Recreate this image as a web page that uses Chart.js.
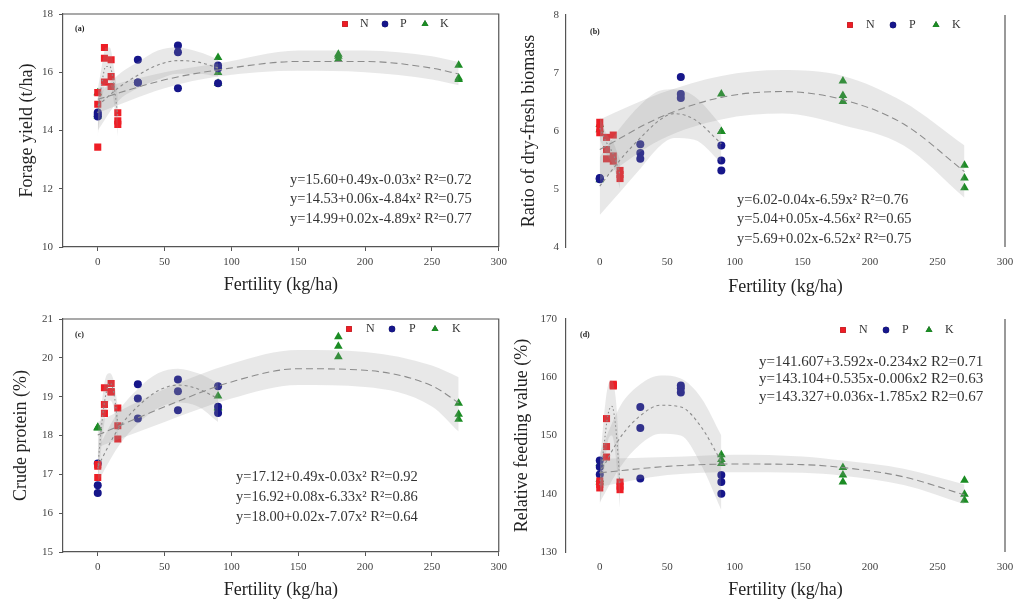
<!DOCTYPE html>
<html>
<head>
<meta charset="utf-8">
<script src="https://cdn.jsdelivr.net/npm/chart.js@4.4.0/dist/chart.umd.min.js"></script>
<style>
  html, body { margin: 0; background: #fff; }
  #fig { position: relative; width: 1024px; height: 607px; overflow: hidden; }
  #fig canvas { position: absolute; }
</style>
</head>
<body>
<div id="fig">
  <canvas id="ca" width="512" height="300" style="left:0;top:0"></canvas>
  <canvas id="cb" width="512" height="300" style="left:512px;top:0"></canvas>
  <canvas id="cc" width="512" height="307" style="left:0;top:300px"></canvas>
  <canvas id="cd" width="512" height="307" style="left:512px;top:300px"></canvas>
</div>
<script>
// fertiliser rates (kg/ha) for each element
const nRates = [0, 5, 10, 15];
const pRates = [0, 30, 60, 90];
const kRates = [0, 90, 180, 270];
const xTicks = [0, 50, 100, 150, 200, 250, 300];

// (a) forage yield, t/ha - three replicates per rate
const yieldTicks = [10, 12, 14, 16, 18];
const yieldN = [[13.43, 14.90, 15.30], [16.85, 16.48, 15.66], [16.43, 15.85, 15.51], [14.61, 14.33, 14.21]];
const yieldP = [[14.62, 14.48, 14.55], [16.43, 15.65, 15.65], [16.92, 16.69, 15.45], [16.23, 16.14, 15.62]];
const yieldK = [[15.30, 14.50, 14.55], [16.51, 15.99, 15.62], [16.62, 16.55, 16.45], [16.24, 15.80, 15.75]];
const yieldFitNx = [0, 3, 6, 9, 12, 15];
const yieldFitN = [14.6, 15.6, 16.2, 16.2, 15.6, 14.5];
const yieldBandNhi = [15.4, 16.2, 16.85, 16.85, 16.2, 15.2];
const yieldBandNlo = [13.8, 15.0, 15.6, 15.6, 15.0, 13.8];
const yieldFitPx = [0, 15, 30, 45, 60, 75, 90];
const yieldFitP = [14.85, 15.45, 15.9, 16.25, 16.4, 16.35, 16.15];
const yieldBandPhi = [15.2, 15.9, 16.35, 16.75, 16.85, 16.7, 16.45];
const yieldBandPlo = [14.0, 15.0, 15.45, 15.75, 15.95, 15.95, 15.85];
const yieldFitKx = [0, 50, 90, 150, 200, 250, 270];
const yieldFitK = [15.07, 15.74, 16.08, 16.37, 16.37, 16.14, 15.94];
const yieldBandKhi = [15.45, 16.0, 16.3, 16.75, 16.75, 16.55, 16.35];
const yieldBandKlo = [14.6, 15.45, 15.85, 16.05, 16.0, 15.75, 15.55];

// (b) ratio of dry-fresh biomass
const ratioTicks = [4, 5, 6, 7, 8];
const ratioN = [[6.15, 6.05, 5.97], [5.89, 5.68, 5.52], [5.93, 5.57, 5.48], [5.32, 5.25, 5.18]];
const ratioP = [[5.19, 5.17, 5.18], [5.77, 5.62, 5.52], [6.93, 6.64, 6.57], [5.75, 5.49, 5.32]];
const ratioK = [[6.11, 6.02, 5.16], [6.64, 5.99, 5.99], [6.86, 6.61, 6.51], [5.41, 5.19, 5.02]];
const ratioFitNx = [0, 5, 10, 15];
const ratioFitN = [6.05, 5.8, 5.6, 5.25];
const ratioBandNhi = [6.25, 5.95, 5.8, 5.5];
const ratioBandNlo = [5.85, 5.6, 5.4, 5.0];
const ratioFitPx = [0, 15, 30, 45, 55, 70, 90];
const ratioFitP = [5.05, 5.5, 5.88, 6.2, 6.3, 6.2, 5.78];
const ratioBandPhi = [5.55, 6.05, 6.45, 6.7, 6.72, 6.6, 6.1];
const ratioBandPlo = [4.55, 4.95, 5.35, 5.75, 5.88, 5.85, 5.45];
const ratioFitKx = [0, 45, 90, 135, 180, 225, 270];
const ratioFitK = [5.68, 6.24, 6.58, 6.68, 6.54, 6.12, 5.30];
const ratioBandKhi = [6.2, 6.65, 6.95, 7.05, 6.95, 6.5, 5.75];
const ratioBandKlo = [5.15, 5.85, 6.2, 6.3, 6.1, 5.75, 4.85];

// (c) crude protein, %
const proteinTicks = [15, 16, 17, 18, 19, 20, 21];
const proteinN = [[17.25, 17.21, 16.92], [19.23, 18.80, 18.57], [19.34, 19.13, 19.12], [18.71, 18.25, 17.91]];
const proteinP = [[17.28, 16.72, 16.52], [19.32, 18.95, 18.44], [19.44, 19.14, 18.65], [19.27, 18.74, 18.58]];
const proteinK = [[18.21, 18.20, 18.19], [19.02, 18.72, 18.70], [20.54, 20.30, 20.03], [18.83, 18.55, 18.42]];
const proteinFitNx = [0, 3, 6, 9, 12, 15];
const proteinFitN = [17.15, 18.3, 19.05, 19.35, 19.1, 18.3];
const proteinBandNhi = [17.5, 18.8, 19.5, 19.6, 19.4, 18.75];
const proteinBandNlo = [16.8, 17.8, 18.55, 18.9, 18.7, 17.85];
const proteinFitPx = [0, 15, 30, 45, 60, 75, 90];
const proteinFitP = [17.2, 18.15, 18.75, 19.15, 19.3, 19.2, 18.95];
const proteinBandPhi = [17.65, 18.6, 19.2, 19.6, 19.72, 19.6, 19.35];
const proteinBandPlo = [16.8, 17.7, 18.3, 18.7, 18.85, 18.75, 18.35];
const proteinFitKx = [0, 50, 100, 150, 200, 250, 270];
const proteinFitK = [18.01, 18.74, 19.38, 19.72, 19.68, 19.28, 18.84];
const proteinBandKhi = [18.35, 19.2, 19.85, 20.2, 20.15, 19.8, 19.5];
const proteinBandKlo = [17.7, 18.35, 18.95, 19.3, 19.25, 18.75, 18.1];

// (d) relative feeding value, %
const rfvTicks = [130, 140, 150, 160, 170];
const rfvN = [[141.0, 141.6, 142.2], [152.9, 148.1, 146.3], [158.8, 158.6, 158.5], [142.0, 141.3, 140.7]];
const rfvP = [[145.7, 144.6, 143.3], [154.9, 151.3, 142.6], [158.6, 158.1, 157.4], [143.2, 142.0, 140.0]];
const rfvK = [[145.2, 142.5, 142.0], [146.7, 145.9, 145.2], [144.5, 143.2, 142.0], [142.3, 139.9, 138.9]];
const rfvFitNx = [0, 3, 6, 9, 12, 15];
const rfvFitN = [141.5, 148, 153.5, 155, 151, 141.5];
const rfvBandNhi = [144.5, 153, 158.5, 159.5, 156, 145];
const rfvBandNlo = [138, 143.5, 149, 150, 146, 137.5];
const rfvFitPx = [0, 15, 30, 45, 60, 75, 90];
const rfvFitP = [143.5, 149.6, 153.4, 155.2, 154.9, 151.5, 145.5];
const rfvBandPhi = [147, 155, 158.8, 160.3, 159.8, 156.5, 150];
const rfvBandPlo = [138.5, 144.5, 148.5, 150.3, 150, 145, 137.2];
const rfvFitKx = [0, 50, 100, 150, 180, 225, 270];
const rfvFitK = [143.6, 144.7, 145.1, 145.0, 144.5, 142.9, 139.8];
const rfvBandKhi = [146.0, 146.3, 146.7, 146.4, 145.7, 144.3, 141.6];
const rfvBandKlo = [141.2, 143.2, 143.7, 143.6, 143.1, 141.5, 138.2];

const colN = '#ee1d25', colP = '#16168a', colK = '#1b8c24';
const axisCol = '#555';
const serif = '"Liberation Serif", "Times New Roman", serif';

function pts(rates, vals) {
  return rates.flatMap((r, i) => vals[i].map(v => ({ x: r, y: v })));
}
function xy(xs, ys) {
  return xs.map((x, i) => ({ x: x, y: ys[i] }));
}

// draws frame lines, panel tag, legend and the fitted equations
const decor = {
  id: 'decor',
  afterDraw(chart, args, o) {
    const ctx = chart.ctx, a = chart.chartArea;
    ctx.save();
    ctx.strokeStyle = axisCol;
    ctx.lineWidth = 1.2;
    ctx.beginPath();
    if (o.frame) {
      ctx.moveTo(a.left, a.top); ctx.lineTo(a.right, a.top); ctx.lineTo(a.right, a.bottom);
    } else {
      ctx.moveTo(a.right, a.top); ctx.lineTo(a.right, a.bottom);
    }
    ctx.stroke();

    ctx.fillStyle = '#222';
    ctx.textBaseline = 'middle';
    ctx.font = 'bold 8px ' + serif;
    ctx.fillText(o.tag, o.tagAt[0], o.tagAt[1]);

    // legend: the last three datasets are the N, P, K points
    const sets = chart.data.datasets.slice(-3);
    ctx.font = '12px ' + serif;
    sets.forEach((ds, i) => {
      const x = o.legX + i * o.legStep, y = o.legY;
      Chart.helpers.drawPoint(ctx, {
        pointStyle: ds.pointStyle, radius: ds.pointStyle === 'circle' ? 3.2 : 4,
        rotation: 0, borderWidth: 0
      }, x, y);
      ctx.fillStyle = ds.backgroundColor;
      ctx.fill();
      ctx.fillStyle = '#333';
      ctx.fillText(ds.label, x + o.legGap, y);
    });

    ctx.font = o.eqSize + 'px ' + serif;
    ctx.fillStyle = '#333';
    o.eqs.forEach((t, i) => ctx.fillText(t, o.eqX, o.eqY + i * o.eqStep));
    ctx.restore();
  }
};

function makePanel(id, c) {
  const cv = document.getElementById(id);
  const W = cv.width, H = cv.height;
  const ds = [];
  const dashes = { N: [1.5, 2.5], P: [3, 3], K: [7, 4] };
  c.fits.forEach(f => {
    ds.push({ data: xy(f.x, f.y), showLine: true, borderColor: '#8c8c8c', borderWidth: 1.1,
      borderDash: dashes[f.el], pointRadius: 0, fill: false, cubicInterpolationMode: 'monotone' });
    ds.push({ data: xy(f.x, f.hi), showLine: true, borderColor: 'rgba(0,0,0,0)', pointRadius: 0,
      fill: false, cubicInterpolationMode: 'monotone' });
    ds.push({ data: xy(f.x, f.lo), showLine: true, borderColor: 'rgba(0,0,0,0)', pointRadius: 0,
      fill: '-1', backgroundColor: 'rgba(150,150,150,0.22)', cubicInterpolationMode: 'monotone' });
  });
  ds.push({ label: 'N', data: pts(nRates, c.N), pointStyle: 'rect', pointRadius: 5, backgroundColor: colN, borderWidth: 0 });
  ds.push({ label: 'P', data: pts(pRates, c.P), pointStyle: 'circle', pointRadius: 4, backgroundColor: colP, borderWidth: 0 });
  ds.push({ label: 'K', data: pts(kRates, c.K), pointStyle: 'triangle', pointRadius: 5, backgroundColor: colK, borderWidth: 0 });

  new Chart(cv, {
    type: 'scatter',
    data: { datasets: ds },
    options: {
      responsive: false,
      animation: false,
      layout: { padding: { left: 0, top: c.area.t, right: W - c.area.r, bottom: 0 } },
      plugins: { legend: { display: false }, tooltip: { enabled: false }, decor: c.decor },
      scales: {
        x: {
          type: 'linear', min: c.xMin, max: 300,
          afterBuildTicks: s => { s.ticks = xTicks.map(v => ({ value: v })); },
          afterFit: s => { s.height = H - c.area.b; },
          border: { display: c.xLine, color: axisCol, width: 1.2 },
          grid: { display: c.xLine, drawOnChartArea: false, drawTicks: c.xLine, tickLength: 4, color: axisCol },
          ticks: { font: { family: serif, size: 11 }, color: '#444', padding: c.xTickPad, maxRotation: 0 },
          title: { display: true, text: 'Fertility (kg/ha)', color: '#222',
            font: { family: serif, size: 18, lineHeight: 1 }, padding: { top: 0, bottom: c.xTitlePad } }
        },
        y: {
          type: 'linear', min: c.yTicks[0], max: c.yTicks[c.yTicks.length - 1],
          afterBuildTicks: s => { s.ticks = c.yTicks.map(v => ({ value: v })); },
          afterFit: s => { s.width = c.area.l; },
          border: { display: true, color: axisCol, width: 1.2 },
          grid: { display: true, drawOnChartArea: false, drawTicks: c.yTickMarks, tickLength: 4, color: axisCol },
          ticks: { font: { family: serif, size: 11 }, color: '#444', padding: c.yTickPad },
          title: { display: true, text: c.yTitle, color: '#222',
            font: { family: serif, size: 18, lineHeight: 1 }, padding: { top: c.yTitlePad, bottom: 0 } }
        }
      }
    },
    plugins: [decor]
  });
}

makePanel('ca', {
  area: { l: 63, t: 14, r: 503, b: 247 }, xMin: -26, yTicks: yieldTicks,
  xLine: true, xTickPad: 5, xTitlePad: 6, yTickMarks: true, yTickPad: 6, yTitlePad: 18,
  yTitle: 'Forage yield (t/ha)',
  N: yieldN, P: yieldP, K: yieldK,
  fits: [
    { el: 'N', x: yieldFitNx, y: yieldFitN, hi: yieldBandNhi, lo: yieldBandNlo },
    { el: 'P', x: yieldFitPx, y: yieldFitP, hi: yieldBandPhi, lo: yieldBandPlo },
    { el: 'K', x: yieldFitKx, y: yieldFitK, hi: yieldBandKhi, lo: yieldBandKlo }
  ],
  decor: { frame: true, tag: '(a)', tagAt: [75, 29], legX: 345, legStep: 40, legGap: 15, legY: 24,
    eqX: 290, eqY: 180, eqStep: 19.5, eqSize: 14.5,
    eqs: ['y=15.60+0.49x-0.03x\u00b2 R\u00b2=0.72', 'y=14.53+0.06x-4.84x\u00b2 R\u00b2=0.75', 'y=14.99+0.02x-4.89x\u00b2 R\u00b2=0.77'] }
});

makePanel('cb', {
  area: { l: 54, t: 15, r: 493, b: 247 }, xMin: -25, yTicks: ratioTicks,
  xLine: false, xTickPad: 9, xTitlePad: 4, yTickMarks: false, yTickPad: 7, yTitlePad: 8,
  yTitle: 'Ratio of dry-fresh biomass',
  N: ratioN, P: ratioP, K: ratioK,
  fits: [
    { el: 'N', x: ratioFitNx, y: ratioFitN, hi: ratioBandNhi, lo: ratioBandNlo },
    { el: 'P', x: ratioFitPx, y: ratioFitP, hi: ratioBandPhi, lo: ratioBandPlo },
    { el: 'K', x: ratioFitKx, y: ratioFitK, hi: ratioBandKhi, lo: ratioBandKlo }
  ],
  decor: { frame: false, tag: '(b)', tagAt: [78, 32], legX: 338, legStep: 43, legGap: 16, legY: 25,
    eqX: 225, eqY: 200, eqStep: 19.5, eqSize: 14.5,
    eqs: ['y=6.02-0.04x-6.59x\u00b2 R\u00b2=0.76', 'y=5.04+0.05x-4.56x\u00b2 R\u00b2=0.65', 'y=5.69+0.02x-6.52x\u00b2 R\u00b2=0.75'] }
});

makePanel('cc', {
  area: { l: 63, t: 19, r: 503, b: 252 }, xMin: -26, yTicks: proteinTicks,
  xLine: true, xTickPad: 5, xTitlePad: 8, yTickMarks: true, yTickPad: 6, yTitlePad: 12,
  yTitle: 'Crude protein (%)',
  N: proteinN, P: proteinP, K: proteinK,
  fits: [
    { el: 'N', x: proteinFitNx, y: proteinFitN, hi: proteinBandNhi, lo: proteinBandNlo },
    { el: 'P', x: proteinFitPx, y: proteinFitP, hi: proteinBandPhi, lo: proteinBandPlo },
    { el: 'K', x: proteinFitKx, y: proteinFitK, hi: proteinBandKhi, lo: proteinBandKlo }
  ],
  decor: { frame: true, tag: '(c)', tagAt: [75, 35], legX: 349, legStep: 43, legGap: 17, legY: 29,
    eqX: 236, eqY: 177, eqStep: 20, eqSize: 14.5,
    eqs: ['y=17.12+0.49x-0.03x\u00b2 R\u00b2=0.92', 'y=16.92+0.08x-6.33x\u00b2 R\u00b2=0.86', 'y=18.00+0.02x-7.07x\u00b2 R\u00b2=0.64'] }
});

makePanel('cd', {
  area: { l: 54, t: 19, r: 493, b: 252 }, xMin: -25, yTicks: rfvTicks,
  xLine: false, xTickPad: 9, xTitlePad: 8, yTickMarks: false, yTickPad: 9, yTitlePad: 1,
  yTitle: 'Relative feeding value (%)',
  N: rfvN, P: rfvP, K: rfvK,
  fits: [
    { el: 'N', x: rfvFitNx, y: rfvFitN, hi: rfvBandNhi, lo: rfvBandNlo },
    { el: 'P', x: rfvFitPx, y: rfvFitP, hi: rfvBandPhi, lo: rfvBandPlo },
    { el: 'K', x: rfvFitKx, y: rfvFitK, hi: rfvBandKhi, lo: rfvBandKlo }
  ],
  decor: { frame: false, tag: '(d)', tagAt: [68, 35], legX: 331, legStep: 43, legGap: 16, legY: 30,
    eqX: 247, eqY: 62, eqStep: 17.5, eqSize: 15,
    eqs: ['y=141.607+3.592x-0.234x2 R2=0.71', 'y=143.104+0.535x-0.006x2 R2=0.63', 'y=143.327+0.036x-1.785x2 R2=0.67'] }
});
</script>
</body>
</html>
